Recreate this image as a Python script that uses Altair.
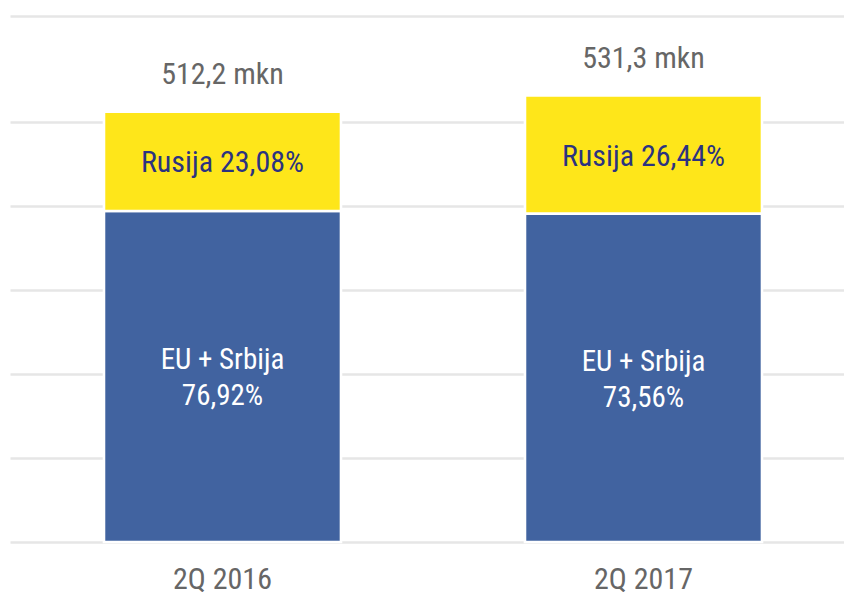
import altair as alt
import pandas as pd

periods = ["2Q 2016", "2Q 2017"]
totals = [512.2, 531.3]
eu_share = [76.92, 73.56]
ru_share = [23.08, 26.44]
segments = ["EU + Srbija", "Rusija"]
colors = ["#4163a0", "#fee61a"]
grid_values = [0, 100, 200, 300, 400, 500, 626]

def fmt(v, d):
    return f"{v:.{d}f}".replace(".", ",")

rows = []
for p, t, e, r in zip(periods, totals, eu_share, ru_share):
    eu_v = t * e / 100
    ru_v = t * r / 100
    rows.append(dict(period=p, seg=segments[0], order=0, value=eu_v, start=0, end=eu_v,
                     mid=eu_v / 2, label=f"EU + Srbija\n{fmt(e, 2)}%"))
    rows.append(dict(period=p, seg=segments[1], order=1, value=ru_v, start=eu_v, end=eu_v + ru_v,
                     mid=eu_v + ru_v / 2, label=f"Rusija {fmt(r, 2)}%"))
df = pd.DataFrame(rows)
tot = pd.DataFrame(dict(period=periods, total=totals, label=[f"{fmt(t, 1)} mkn" for t in totals]))

FONT = "Roboto Condensed, Liberation Sans Narrow, DejaVu Sans Condensed, sans-serif"

xs = alt.X("period:N", sort=periods, title=None,
           scale=alt.Scale(paddingInner=0.437, paddingOuter=0.209, align=0.534),
           axis=alt.Axis(labelAngle=0, ticks=False, domain=False, labelFont=FONT,
                         labelFontSize=30, labelColor="#666666", labelPadding=22))
ys = alt.Y("start:Q", title=None,
           scale=alt.Scale(domain=[0, 626], nice=False, zero=True),
           axis=alt.Axis(values=grid_values, labels=False, ticks=False, domain=False,
                         grid=True, gridColor="#e6e6e6", gridWidth=2.5))

bars = alt.Chart(df).mark_bar(stroke="white", strokeWidth=2.6).encode(
    x=xs, y=ys, y2="end:Q",
    color=alt.Color("seg:N", scale=alt.Scale(domain=segments, range=colors), legend=None),
)

ru_text = alt.Chart(df[df.seg == "Rusija"]).mark_text(
    font=FONT, fontSize=30, color="#2b3380", baseline="middle", dy=2
).encode(x=alt.X("period:N", sort=periods), y=alt.Y("mid:Q"), text="label:N")

eu_text = alt.Chart(df[df.seg == "EU + Srbija"]).mark_text(
    font=FONT, fontSize=29, color="white", baseline="middle", lineBreak="\n", lineHeight=36,
    dy=-16
).encode(x=alt.X("period:N", sort=periods), y=alt.Y("mid:Q"), text="label:N")

tot_text = alt.Chart(tot).mark_text(
    font=FONT, fontSize=30, color="#666666", baseline="middle", dy=-37
).encode(x=alt.X("period:N", sort=periods), y=alt.Y("total:Q"), text="label:N")

chart = alt.layer(bars, ru_text, eu_text, tot_text).properties(
    width=834, height=526,
    autosize=alt.AutoSizeParams(type="none"),
    padding={"left": 10, "top": 16, "right": 0, "bottom": 50},
).configure(background="white", view=alt.ViewConfig(stroke=None))

chart.save("out.html", embed_options={"renderer": "svg", "actions": False})
